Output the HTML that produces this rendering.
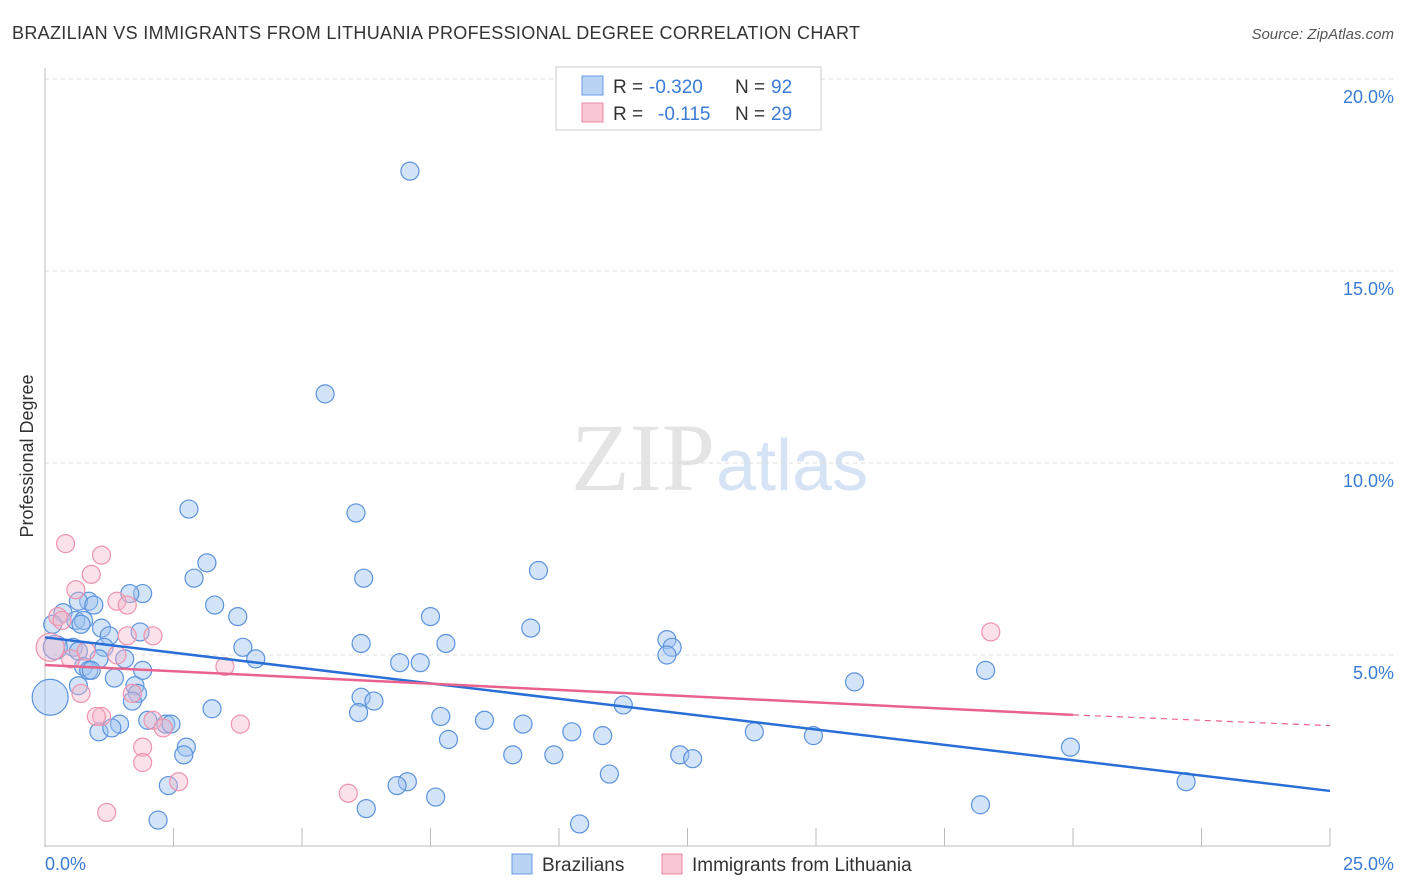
<!DOCTYPE html>
<html><head><meta charset="utf-8"><style>
body{margin:0;background:#fff;font-family:"Liberation Sans",sans-serif;}
svg{display:block}
</style></head><body>
<svg width="1406" height="892" id="chart">
<text x="12" y="39" font-size="18" fill="#333" textLength="848">BRAZILIAN VS IMMIGRANTS FROM LITHUANIA PROFESSIONAL DEGREE CORRELATION CHART</text>
<text x="1394" y="39" font-size="15" fill="#555" font-style="italic" text-anchor="end">Source: ZipAtlas.com</text>
<text x="715" y="490" font-size="96" fill="#e4e4e4" font-family="Liberation Serif,serif" text-anchor="end">ZIP</text>
<text x="716" y="490" font-size="72" fill="#d5e3f5">atlas</text>
<g id="grid"></g>
<line x1="45" y1="68" x2="45" y2="847" stroke="#bbb"/>
<line x1="45" y1="846" x2="1330" y2="846" stroke="#bbb"/>
<text transform="translate(33,456) rotate(-90)" font-size="18" fill="#333" text-anchor="middle">Professional Degree</text>
<text x="45" y="870" font-size="18" fill="#3a7bd5">0.0%</text>
<text x="1394" y="870" font-size="18" fill="#3a7bd5" text-anchor="end">25.0%</text>
<g id="pts"></g>
<g id="lines"></g>
<g>
<rect x="556" y="67" width="265" height="63" fill="#fff" stroke="#ccc"/>
<rect x="582" y="76" width="21" height="19" fill="#b9d3f5" stroke="#6a9be0"/>
<rect x="582" y="103" width="21" height="19" fill="#f9c6d4" stroke="#e88aa5"/>
<text x="613" y="93" font-size="19" fill="#333">R =</text>
<text x="649" y="93" font-size="19" fill="#3a7bd5">-0.320</text>
<text x="735" y="93" font-size="19" fill="#333">N =</text>
<text x="771" y="93" font-size="19" fill="#3a7bd5">92</text>
<text x="613" y="120" font-size="19" fill="#333">R =</text>
<text x="658" y="120" font-size="19" fill="#3a7bd5">-0.115</text>
<text x="735" y="120" font-size="19" fill="#333">N =</text>
<text x="771" y="120" font-size="19" fill="#3a7bd5">29</text>
</g>
<g>
<rect x="512" y="854" width="20" height="20" fill="#b9d3f5" stroke="#6a9be0"/>
<text x="542" y="871" font-size="19" fill="#333">Brazilians</text>
<rect x="662" y="854" width="20" height="20" fill="#f9c6d4" stroke="#e88aa5"/>
<text x="692" y="871" font-size="19" fill="#333">Immigrants from Lithuania</text>
</g>
</svg>
<script>
const yTicks=[5,10,15,20];
const xTicks=[0,2.5,5,7.5,10,12.5,15,17.5,20,22.5,25];
const blueX=[7.1,5.45,2.8,6.05,3.15,9.6,2.9,6.2,1.9,1.65,3.3,0.85,0.65,0.95,3.75,7.5,0.35,0.6,0.75,0.15,0.7,1.1,1.25,1.85,9.45,12.1,6.15,7.8,3.85,0.55,1.15,0.65,12.2,12.1,1.55,1.05,4.1,6.9,7.3,0.75,0.85,0.9,1.9,18.3,1.35,15.75,0.65,1.75,1.8,6.15,6.4,11.25,1.7,3.25,6.1,2.0,7.7,8.55,9.3,1.45,2.35,2.45,1.05,1.3,10.25,10.85,13.8,14.95,7.85,2.75,19.95,2.7,9.1,9.9,12.35,12.6,10.98,22.2,7.05,6.85,2.4,7.6,6.25,18.2,2.2,10.4,0.1,0.2];
const blueY=[17.6,11.8,8.8,8.7,7.4,7.2,7.0,7.0,6.6,6.6,6.3,6.4,6.4,6.3,6.0,6.0,6.1,5.9,5.9,5.8,5.8,5.7,5.5,5.6,5.7,5.4,5.3,5.3,5.2,5.2,5.2,5.1,5.2,5.0,4.9,4.9,4.9,4.8,4.8,4.7,4.6,4.6,4.6,4.6,4.4,4.3,4.2,4.2,4.0,3.9,3.8,3.7,3.8,3.6,3.5,3.3,3.4,3.3,3.2,3.2,3.2,3.2,3.0,3.1,3.0,2.9,3.0,2.9,2.8,2.6,2.6,2.4,2.4,2.4,2.4,2.3,1.9,1.7,1.7,1.6,1.6,1.3,1.0,1.1,0.7,0.6,3.9,5.2];
const blueR=[9,9,9,9,9,9,9,9,9,9,9,9,9,9,9,9,9,9,9,9,9,9,9,9,9,9,9,9,9,9,9,9,9,9,9,9,9,9,9,9,9,9,9,9,9,9,9,9,9,9,9,9,9,9,9,9,9,9,9,9,9,9,9,9,9,9,9,9,9,9,9,9,9,9,9,9,9,9,9,9,9,9,9,9,9,9,18,12];
const pinkX=[0.4,1.1,0.9,0.6,1.4,1.6,0.25,0.33,2.1,0.8,1.6,0.5,3.5,1.4,0.7,1.7,18.4,3.8,2.1,2.3,1.1,1.0,1.9,1.9,2.6,5.9,1.2,0.1];
const pinkY=[7.9,7.6,7.1,6.7,6.4,6.3,6.0,5.9,5.5,5.1,5.5,4.9,4.7,5.0,4.0,4.0,5.6,3.2,3.3,3.1,3.4,3.4,2.6,2.2,1.7,1.4,0.9,5.2];
const pinkR=[9,9,9,9,9,9,9,9,9,9,9,9,9,9,9,9,9,9,9,9,9,9,9,9,9,9,9,14];
const blueTrend=[5.46,1.46];
const pinkTrend=[4.74,3.44,3.16];
const NS="http://www.w3.org/2000/svg";
const X=v=>45+v/25*1285, Y=v=>847-v/5*192;
function mk(t,a){const e=document.createElementNS(NS,t);for(const k in a)e.setAttribute(k,a[k]);return e;}
const g=document.getElementById('grid');
yTicks.forEach(t=>{
 const l=mk('line',{x1:45,x2:1394,y1:Y(t),y2:Y(t),stroke:'#ddd','stroke-dasharray':'4,4'});
 
 
 g.appendChild(l);
 const tx=mk('text',{x:1394,y:Y(t)+24,'font-size':18,fill:'#3a7bd5','text-anchor':'end'});
 tx.textContent=t.toFixed(1)+'%';
 
 
 g.appendChild(tx);
});
xTicks.forEach(t=>{
 const l=mk('line',{x1:X(t),x2:X(t),y1:828,y2:846,stroke:'#bbb'});
 
 
 g.appendChild(l);
});
const p=document.getElementById('pts');
blueX.forEach((v,i)=>{
 const c=mk('circle',{cx:X(v),cy:Y(blueY[i]),r:blueR[i],fill:'rgba(160,196,240,0.45)',stroke:'#5b93dd','stroke-width':1.2});
 
 
 p.appendChild(c);
});
pinkX.forEach((v,i)=>{
 const c=mk('circle',{cx:X(v),cy:Y(pinkY[i]),r:pinkR[i],fill:'rgba(246,180,200,0.4)',stroke:'#ee93ad','stroke-width':1.2});
 
 
 p.appendChild(c);
});
const L=document.getElementById('lines');
const b=mk('line',{x1:X(0),y1:Y(blueTrend[0]),x2:X(25),y2:Y(blueTrend[1]),stroke:'#2a6fd6','stroke-width':2.5});


L.appendChild(b);
const pk=mk('line',{x1:X(0),y1:Y(pinkTrend[0]),x2:X(20),y2:Y(pinkTrend[1]),stroke:'#e8628d','stroke-width':2.5});


L.appendChild(pk);
const pd=mk('line',{x1:X(20),y1:Y(pinkTrend[1]),x2:X(25),y2:Y(pinkTrend[2]),stroke:'#e8628d','stroke-width':1.2,'stroke-dasharray':'6,5'});


L.appendChild(pd);
</script>
</body></html>
